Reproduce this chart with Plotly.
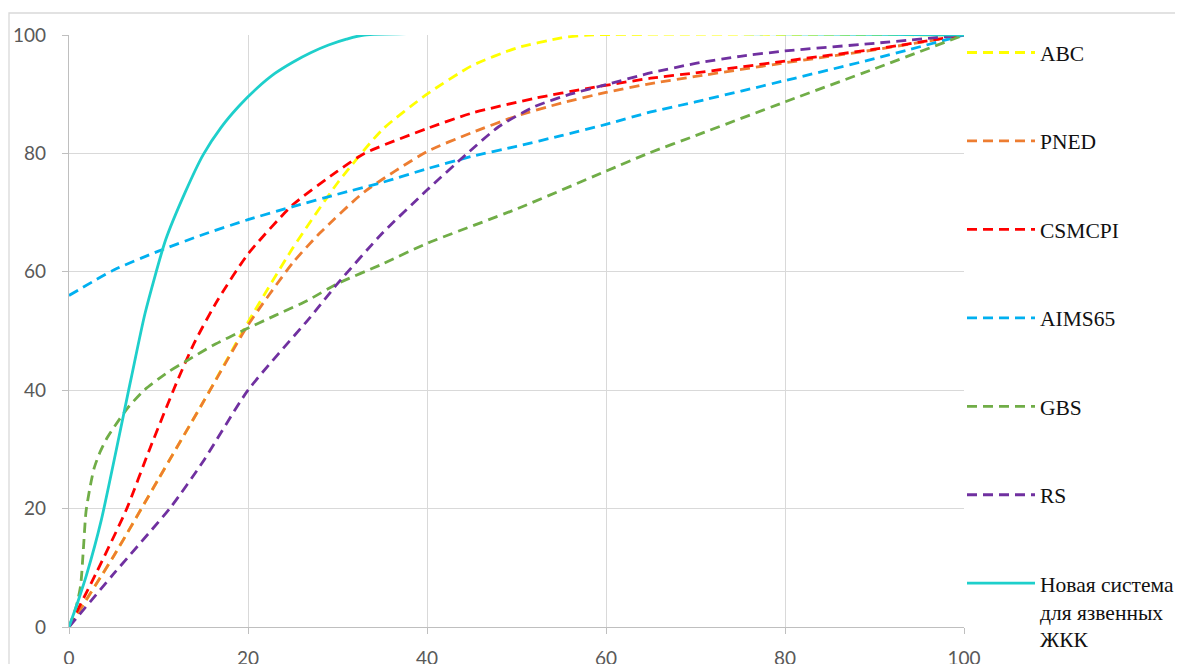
import plotly.graph_objects as go

# ---- data ----
abc_x = [0, 5, 10, 15, 20, 25, 30, 35, 40, 45, 50, 55, 58, 100]
abc_y = [0, 12, 25, 38, 51.5, 64, 75, 84, 90, 94.8, 97.8, 99.5, 100, 100]

pned_x = [0, 5, 10, 15, 20, 25, 28, 33, 40, 45, 50, 55, 60, 65, 70, 80, 90, 100]
pned_y = [0, 12, 25, 38, 51, 61.5, 66.5, 73.5, 80.3, 83.5, 86.3, 88.5, 90.3, 91.8, 93, 95.3, 97.5, 100]

csmcpi_x = [0, 3, 6.4, 9, 12, 14, 16.6, 20, 25, 30, 33, 40, 45, 52, 58, 65, 70, 80, 90, 100]
csmcpi_y = [0, 9, 19.8, 30, 41.2, 48, 55.2, 63, 71.3, 77, 80, 84.2, 86.8, 89.3, 91, 92.7, 93.6, 95.6, 97.6, 100]

aims_x = [0, 5, 10, 15, 20, 25, 30, 35, 40, 45, 50, 55, 60, 65, 70, 80, 90, 100]
aims_y = [56, 60.3, 63.5, 66.3, 68.8, 71, 73.1, 75.1, 77.4, 79.5, 81.2, 83, 84.9, 87, 88.7, 92.3, 96, 100]

gbs_x = [0, 0.8, 1.3, 1.6, 1.9, 2.4, 2.8, 3.4, 4.2, 5.1, 6.5, 8.4, 11, 13.3, 16, 19.6, 23, 26.7, 30, 35, 40, 50, 60, 64.7, 70, 80, 90, 100]
gbs_y = [0, 3.4, 7, 13, 19.5, 24, 26.8, 29.3, 31.8, 33.9, 36.9, 40, 43, 45.1, 47.5, 50.2, 52.6, 55.2, 58, 61.3, 64.8, 70.6, 77, 80, 83, 88.7, 94.3, 100]

rs_x = [0, 5, 11.4, 15, 20, 27, 30, 35, 40, 44.5, 48, 52, 56, 60, 64.7, 70, 75, 80, 90, 100]
rs_y = [0, 9, 20.3, 28, 40, 52.4, 58, 66.5, 73.8, 80, 84.5, 87.9, 90, 91.6, 93.5, 95.2, 96.4, 97.3, 98.6, 100]

new_x = [0, 1, 2, 3.6, 6.9, 8.5, 10.8, 13, 15, 17, 19, 21, 23, 25, 27, 29, 31, 33, 100]
new_y = [0, 4.3, 9, 18, 41.7, 53, 65.4, 73.5, 79.8, 84.4, 88, 91, 93.5, 95.4, 97, 98.3, 99.3, 100, 100]

names = ["ABC", "PNED", "CSMCPI", "AIMS65", "GBS", "RS", "Новая система<br>для язвенных<br>ЖКК"]
colors = ["#FFFF00", "#ED7D31", "#FF0000", "#00B0F0", "#70AD47", "#7030A0", "#1ECFCB"]
xs = [abc_x, pned_x, csmcpi_x, aims_x, gbs_x, rs_x, new_x]
ys = [abc_y, pned_y, csmcpi_y, aims_y, gbs_y, rs_y, new_y]
dashes = ["10px,6px"] * 6 + ["solid"]

fig = go.Figure()
for i, (nm, c, x, y, d) in enumerate(zip(names, colors, xs, ys, dashes)):
    fig.add_trace(go.Scatter(
        x=x, y=y, name=nm, mode="lines",
        line=dict(color=c, width=2.8, dash=d, shape="spline", smoothing=0.6),
        legendgroup="g%d" % i,
    ))

tick_font = dict(family="Lato, 'Open Sans', sans-serif", size=19, color="#595959")

# page body adds an 8px offset, so the figure is 8px smaller than the window
fig.update_layout(
    template="none",
    width=1175, height=656,
    margin=dict(l=61, r=219, t=27, b=37, autoexpand=False),
    paper_bgcolor="white", plot_bgcolor="white",
    showlegend=True,
    legend=dict(
        x=(961 - 68) / 895, xanchor="left", y=(627 - 32) / 592, yanchor="top",
        font=dict(family="'Liberation Serif', 'Times New Roman', serif", size=21.5, color="#111111"),
        tracegroupgap=57.5, itemwidth=68, valign="top", maxheight=900,
        bgcolor="rgba(0,0,0,0)", borderwidth=0,
    ),
    xaxis=dict(
        range=[0, 100], tickvals=[0, 20, 40, 60, 80, 100], automargin=False,
        showgrid=True, gridcolor="#D9D9D9", gridwidth=1.3,
        zeroline=False, showline=True, linecolor="#BFBFBF", linewidth=1.3,
        ticks="outside", ticklen=6, tickcolor="#BFBFBF", tickwidth=1.3,
        tickfont=tick_font, ticklabelstandoff=8,
    ),
    yaxis=dict(
        range=[0, 100], tickvals=[0, 20, 40, 60, 80, 100], automargin=False,
        showgrid=True, gridcolor="#D9D9D9", gridwidth=1.3,
        zeroline=False, showline=True, linecolor="#BFBFBF", linewidth=1.3,
        ticks="outside", ticklen=6, tickcolor="#BFBFBF", tickwidth=1.3,
        tickfont=tick_font, ticklabelstandoff=12,
    ),
)

# outer chart border (light gray frame)
fig.add_shape(type="rect", xref="paper", yref="paper",
              x0=-60 / 895, x1=1.5, y0=-0.2, y1=(627 - 13) / 592,
              line=dict(color="#D9D9D9", width=1.3), fillcolor="rgba(0,0,0,0)", layer="below")

# clipped caption remnant at the top
fig.add_annotation(text=")", xref="paper", yref="paper", x=-2 / 895, y=(627 + 6) / 592,
                   xanchor="center", yanchor="bottom", showarrow=False,
                   font=dict(family="'Liberation Serif', serif", size=20, color="#111111"))

fig.write_html("out.html")
